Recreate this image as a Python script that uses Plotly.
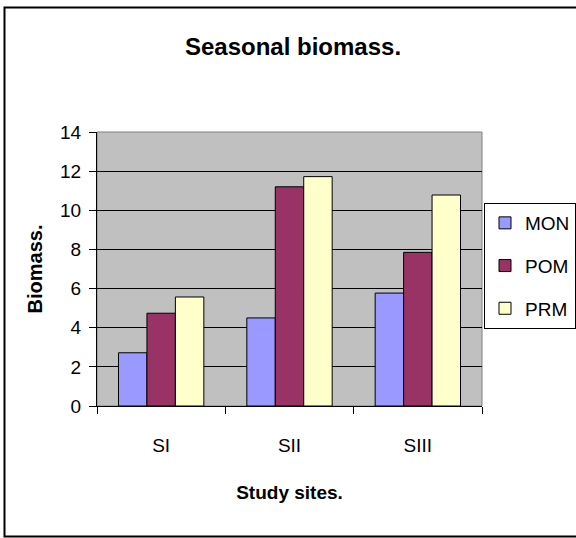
import plotly.graph_objects as go

sites = ["SI", "SII", "SIII"]
mon = [2.72, 4.5, 5.77]
pom = [4.74, 11.2, 7.85]
prm = [5.57, 11.72, 10.78]
series_names = ["MON", "POM", "PRM"]
colors = ["#9999FF", "#993366", "#FFFFCC"]
y_ticks = [0, 2, 4, 6, 8, 10, 12, 14]

FONT = "Liberation Sans, Arial, sans-serif"

fig = go.Figure()
for i, (name, vals) in enumerate(zip(series_names, [mon, pom, prm])):
    fig.add_trace(go.Bar(
        x=sites, y=vals, name=name, legendgroup=name,
        marker=dict(color=colors[i], line=dict(color="black", width=1)),
    ))

W, H = 576, 538
L, R, T, B = 97, 94, 132, 132
pw = W - L - R
ph = H - T - B

def px_x(p):
    return (p - L) / pw

def px_y(p):
    return (H - B - p) / ph

fig.update_layout(
    width=W, height=H,
    margin=dict(l=L, r=R, t=T, b=B, autoexpand=False),
    paper_bgcolor="white",
    plot_bgcolor="#C0C0C0",
    barmode="group", bargap=0.335, bargroupgap=0,
    font=dict(family=FONT, size=18, color="black"),
    title=dict(text="<b>Seasonal biomass.</b>", x=293 / W, xanchor="center",
               y=1 - 47 / H, yanchor="middle",
               font=dict(family=FONT, size=24, color="black")),
    legend=dict(x=px_x(484), y=px_y(203), xanchor="left", yanchor="top",
                bordercolor="black", borderwidth=1, bgcolor="white",
                font=dict(family=FONT, size=19, color="black"),
                tracegroupgap=15, itemwidth=30),
    xaxis=dict(
        tickson="boundaries", ticks="outside", ticklen=7, tickcolor="black",
        showline=True, linecolor="black", linewidth=1,
        ticklabelstandoff=22,
        tickfont=dict(family=FONT, size=19, color="black"),
        title=dict(text="<b>Study sites.</b>", standoff=30,
                   font=dict(family=FONT, size=19, color="black")),
    ),
    yaxis=dict(
        range=[0, 14], tickvals=y_ticks, ticks="outside", ticklen=7,
        tickcolor="black", showline=True, linecolor="black", linewidth=1,
        showgrid=True, gridcolor="black", gridwidth=1, zeroline=False,
        ticklabelstandoff=4,
        tickfont=dict(family=FONT, size=19, color="black"),
        title=dict(text="<b>Biomass.</b>", standoff=12,
                   font=dict(family=FONT, size=20, color="black")),
    ),
    shapes=[
        dict(type="rect", xref="paper", yref="paper", x0=0, x1=1, y0=0, y1=1,
             line=dict(color="#808080", width=1), layer="below"),
        dict(type="rect", xref="paper", yref="paper",
             x0=px_x(4.5), x1=px_x(590), y0=px_y(536.5), y1=px_y(7.5),
             line=dict(color="black", width=2)),
    ],
)

fig.write_html("out.html")
